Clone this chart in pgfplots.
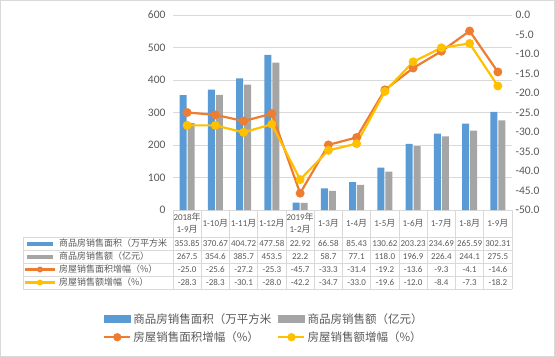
\documentclass[border=0pt]{standalone}
\usepackage{pgfplots}
\pgfplotsset{compat=1.18}
\usepackage{pgfplotstable}
\usepackage{fontspec}
\setmainfont{Carlito}
\newfontfamily\cjk{Noto Sans CJK SC}
\definecolor{cblue}{HTML}{5B9BD5}
\definecolor{cgray}{HTML}{A5A5A5}
\definecolor{corange}{HTML}{ED7D31}
\definecolor{cyellow}{HTML}{FFC000}
\definecolor{gridc}{HTML}{D9D9D9}
\definecolor{txt}{HTML}{595959}

\pgfplotstableread{
x area amount areag amountg
0 353.85 267.5 -25.0 -28.3
1 370.67 354.6 -25.6 -28.3
2 404.72 385.7 -27.2 -30.1
3 477.58 453.5 -25.3 -28.0
4 22.92 22.2 -45.7 -42.2
5 66.58 58.7 -33.3 -34.7
6 85.43 77.1 -31.4 -33.0
7 130.62 118.0 -19.2 -19.6
8 203.23 196.9 -13.6 -12.0
9 234.69 226.4 -9.3 -8.4
10 265.59 244.1 -4.1 -7.3
11 302.31 275.5 -14.6 -18.2
}\datatable

\pgfplotsset{base/.style={at={(173bp,-210bp)}, anchor=south west, scale only axis,
  width=339bp, height=195bp, xmin=-0.5, xmax=11.5, xtick=\empty,
  axis line style={draw=none}, major tick length=0pt,
  tick label style={font=\fontsize{11.5bp}{13bp}\selectfont, text=txt},
  /pgf/number format/assume math mode=true, clip=false}}

\begin{document}
\begin{tikzpicture}
\draw[gridc] (0.5bp,-0.5bp) rectangle (554.5bp,-356.5bp);

\begin{axis}[base, ymin=0, ymax=600, ytick={0,100,...,600},
  ymajorgrids, grid style={gridc, line width=0.75bp},
  ybar=1bp, bar width=7bp, yticklabel style={xshift=-4bp}]
\addplot[fill=cblue, draw=none] table[x=x,y=area]{\datatable};
\addplot[fill=cgray, draw=none] table[x=x,y=amount]{\datatable};
\end{axis}

\begin{axis}[base, ymin=-50, ymax=0, ytick={-50,-45,...,0}, yticklabel pos=right,
  yticklabel style={/pgf/number format/fixed, /pgf/number format/fixed zerofill, /pgf/number format/precision=1},
  legend columns=2, legend cell align=left,
  legend style={at={(axis description cs:-0.2065,-0.518)}, anchor=north west, draw=none, fill=none,
    inner sep=0pt, font=\cjk\fontsize{11.5bp}{14bp}\selectfont, text=txt,
    nodes={inner sep=2bp}, row sep=3bp,
    /tikz/every even column/.append style={column sep=4bp}}]
\addlegendimage{legend image code/.code={\fill[cblue] (0bp,-3.5bp) rectangle (26bp,3.5bp);}}
\addlegendentry{商品房销售面积（万平方米}
\addlegendimage{legend image code/.code={\fill[cgray] (0bp,-3.5bp) rectangle (26bp,3.5bp);}}
\addlegendentry{商品房销售额（亿元）}
\addplot[corange, line width=2.2bp, mark=*, mark size=3.3bp, mark options={fill=corange, draw=corange, solid},
  legend image code/.code={\draw[corange, line width=2.2bp] (0bp,0bp) -- (26bp,0bp); \fill[corange] (13bp,0bp) circle (3bp);}]
  table[x=x,y=areag]{\datatable};
\addlegendentry{房屋销售面积增幅（\%）}
\addplot[cyellow, line width=2.2bp, mark=*, mark size=3.3bp, mark options={fill=cyellow, draw=cyellow, solid},
  legend image code/.code={\draw[cyellow, line width=2.2bp] (0bp,0bp) -- (26bp,0bp); \fill[cyellow] (13bp,0bp) circle (3bp);}]
  table[x=x,y=amountg]{\datatable};
\addlegendentry{房屋销售额增幅（\%）}
\end{axis}

% data table
\begin{scope}[gridc, line width=0.75bp]
\foreach \yy in {237,250,263,276,289} \draw (23bp,-\yy bp) -- (512bp,-\yy bp);
\draw (23bp,-237bp) -- (23bp,-289bp);
\foreach \k in {0,...,12} \draw ({(173+28.25*\k)*1bp},-210bp) -- ({(173+28.25*\k)*1bp},-289bp);
\end{scope}

\foreach \i/\lab in {0/{2018{\cjk 年}\\1-9{\cjk 月}}, 1/{1-10{\cjk 月}}, 2/{1-11{\cjk 月}}, 3/{1-12{\cjk 月}},
  4/{2019{\cjk 年}\\1-2{\cjk 月}}, 5/{1-3{\cjk 月}}, 6/{1-4{\cjk 月}}, 7/{1-5{\cjk 月}}, 8/{1-6{\cjk 月}},
  9/{1-7{\cjk 月}}, 10/{1-8{\cjk 月}}, 11/{1-9{\cjk 月}}}
  \node[font=\fontsize{9bp}{12bp}\selectfont, text=txt, align=center, inner sep=0pt]
    at ({(173+28.25*(\i+0.5))*1bp}, -223.5bp) {\lab};

\foreach \i in {0,...,11}{
  \pgfplotstablegetelem{\i}{area}\of\datatable
  \node[font=\fontsize{9bp}{11bp}\selectfont, text=txt, inner sep=0pt] at ({(173+28.25*(\i+0.5))*1bp}, -243.5bp) {\pgfplotsretval};
  \pgfplotstablegetelem{\i}{amount}\of\datatable
  \node[font=\fontsize{9bp}{11bp}\selectfont, text=txt, inner sep=0pt] at ({(173+28.25*(\i+0.5))*1bp}, -256.5bp) {\pgfplotsretval};
  \pgfplotstablegetelem{\i}{areag}\of\datatable
  \node[font=\fontsize{9bp}{11bp}\selectfont, text=txt, inner sep=0pt] at ({(173+28.25*(\i+0.5))*1bp}, -269.5bp) {\pgfplotsretval};
  \pgfplotstablegetelem{\i}{amountg}\of\datatable
  \node[font=\fontsize{9bp}{11bp}\selectfont, text=txt, inner sep=0pt] at ({(173+28.25*(\i+0.5))*1bp}, -282.5bp) {\pgfplotsretval};
}

\begin{scope}[every node/.style={font=\cjk\fontsize{9bp}{11bp}\selectfont, text=txt, anchor=west, inner sep=0pt}]
\fill[cblue] (27bp,-245.5bp) rectangle (53bp,-241.5bp);
\node at (59bp,-243.5bp) {商品房销售面积（万平方米};
\fill[cgray] (27bp,-258.5bp) rectangle (53bp,-254.5bp);
\node at (59bp,-256.5bp) {商品房销售额（亿元）};
\draw[corange, line width=2.2bp] (25bp,-269.5bp) -- (55bp,-269.5bp);
\fill[corange] (40bp,-269.5bp) circle (3bp);
\node at (59bp,-269.5bp) {房屋销售面积增幅（\%）};
\draw[cyellow, line width=2.2bp] (25bp,-282.5bp) -- (55bp,-282.5bp);
\fill[cyellow] (40bp,-282.5bp) circle (3bp);
\node at (59bp,-282.5bp) {房屋销售额增幅（\%）};
\end{scope}

\pgfresetboundingbox
\path (0bp,0bp) rectangle (555bp,-357bp);
\end{tikzpicture}
\end{document}
